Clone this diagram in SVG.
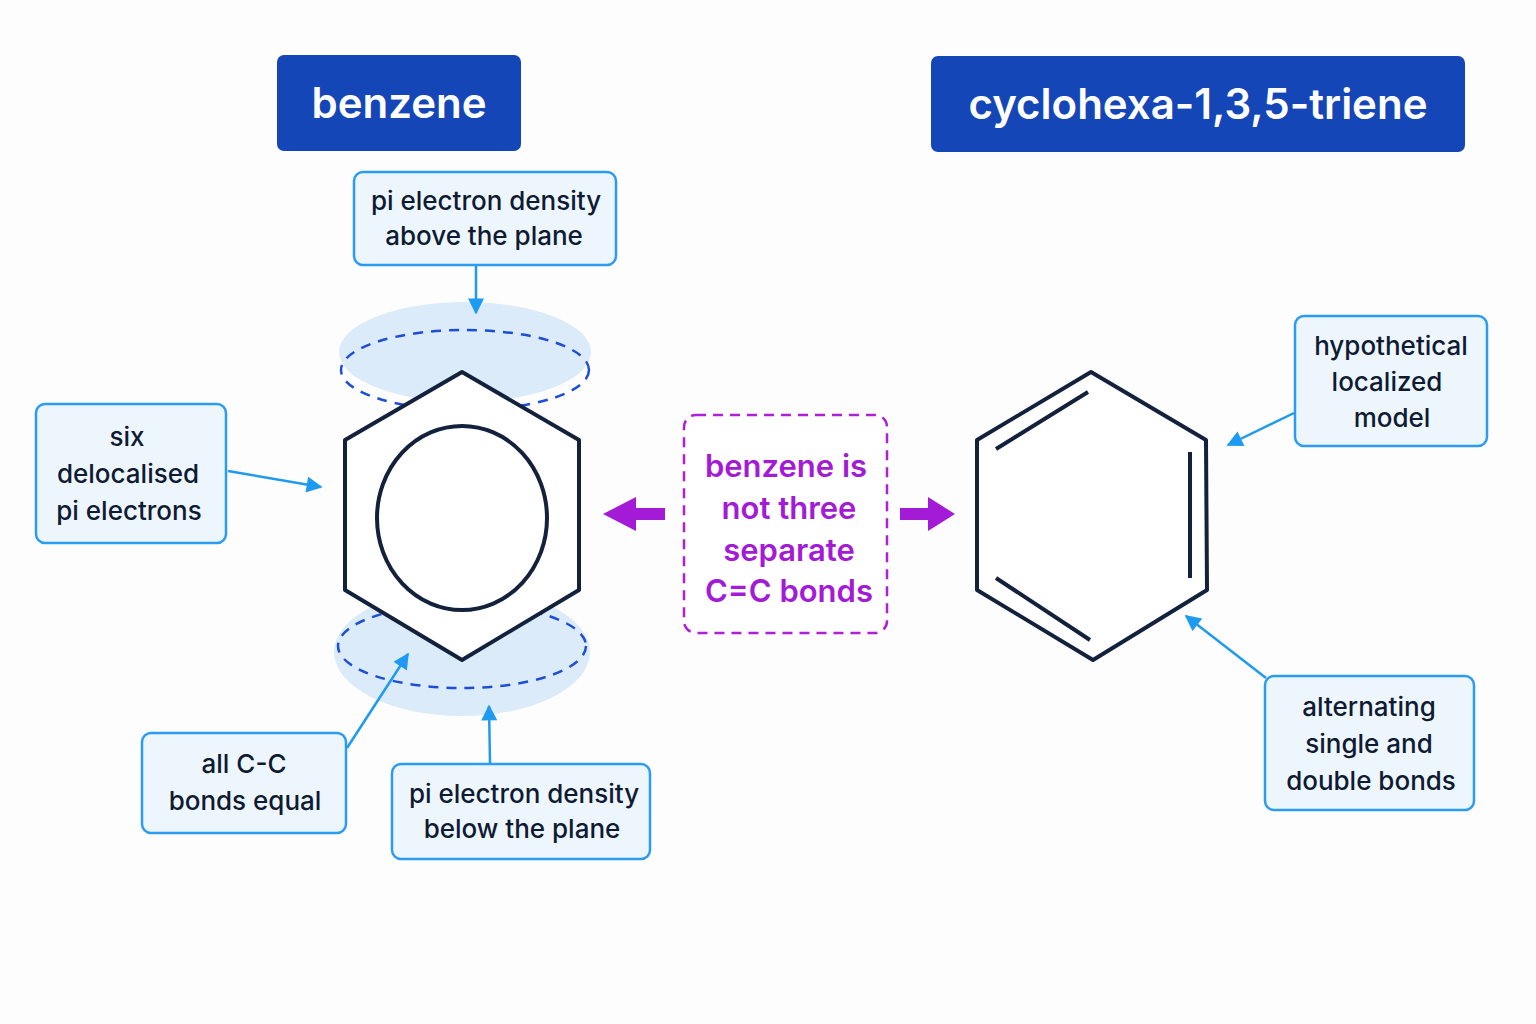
<svg xmlns="http://www.w3.org/2000/svg" width="1536" height="1024" viewBox="0 0 1536 1024">
<defs>
<style>
.title{fill:#1446b8}
.tt{font-family:Inter,"Liberation Sans",sans-serif;font-weight:600;fill:#fff;font-size:42px;text-anchor:middle}
.box{fill:#eef6fd;stroke:#2b9cf2;stroke-width:2.5}
.bt{font-family:Inter,"Liberation Sans",sans-serif;font-weight:500;fill:#0f1a33;font-size:26px;text-anchor:middle}
.pt{font-family:Inter,"Liberation Sans",sans-serif;font-weight:600;fill:#a31bd6;font-size:31px;text-anchor:middle}
.ring{fill:#fff;stroke:#14213d;stroke-width:4;stroke-linejoin:round}
.cloud{fill:#dcebfa}
.dash{fill:none;stroke:#1d4ed8;stroke-width:2.5;stroke-dasharray:10 8}
.ca{stroke:#1e9bf0;stroke-width:2.5;fill:none;marker-end:url(#ah)}
.ph{fill:#a31bd6}
</style>
<marker id="ah" viewBox="0 0 10 10" refX="9" refY="5" markerWidth="18" markerHeight="16" orient="auto" markerUnits="userSpaceOnUse"><path d="M0,0L10,5L0,10z" fill="#1e9bf0"/></marker>
</defs>
<rect width="1536" height="1024" fill="#fdfdfe"/>
<g id="title-benzene"><rect class="title" x="277" y="55" width="244" height="96" rx="7"/><text class="tt" x="399" y="118">benzene</text></g>
<g id="title-triene"><rect class="title" x="931" y="56" width="534" height="96" rx="7"/><text class="tt" x="1198" y="119">cyclohexa-1,3,5-triene</text></g>
<g id="benzene">
<ellipse class="cloud" cx="465" cy="352" rx="126" ry="50"/>
<ellipse class="dash" cx="465" cy="370" rx="124" ry="40"/>
<ellipse class="cloud" cx="462" cy="652" rx="128" ry="64"/>
<ellipse class="dash" cx="462" cy="646" rx="124" ry="42"/>
<polygon class="ring" points="462,372 579,440 579,590 462,660 345,590 345,440"/>
<ellipse cx="462" cy="518" rx="85" ry="92" fill="none" stroke="#14213d" stroke-width="4"/>
</g>
<g id="triene">
<polygon class="ring" points="1091,372 1206,440 1207,590 1093,660 977,590 977,440"/>
<path d="M996,449L1088,392M1190,452L1190,578M996,578L1090,640" stroke="#14213d" stroke-width="4"/>
</g>
<g id="note-middle"><rect x="684" y="415" width="203" height="218" rx="12" fill="#fff" stroke="#b01fd8" stroke-width="2.5" stroke-dasharray="10 7"/>
<text class="pt" x="786" y="477">benzene is</text><text class="pt" x="789" y="519">not three</text><text class="pt" x="789" y="561">separate</text><text class="pt" x="789" y="602">C=C bonds</text></g>
<g id="box-above"><rect class="box" x="354" y="172" width="262" height="93" rx="9"/><text class="bt" x="486" y="210">pi electron density</text><text class="bt" x="484" y="245">above the plane</text></g>
<g id="box-six"><rect class="box" x="36" y="404" width="190" height="139" rx="9"/><text class="bt" x="127" y="446">six</text><text class="bt" x="128" y="483">delocalised</text><text class="bt" x="129" y="520">pi electrons</text></g>
<g id="box-equal"><rect class="box" x="142" y="733" width="204" height="100" rx="9"/><text class="bt" x="244" y="773">all C-C</text><text class="bt" x="245" y="810">bonds equal</text></g>
<g id="box-below"><rect class="box" x="392" y="764" width="258" height="95" rx="9"/><text class="bt" x="524" y="803">pi electron density</text><text class="bt" x="522" y="838">below the plane</text></g>
<g id="box-hypo"><rect class="box" x="1295" y="316" width="192" height="130" rx="9"/><text class="bt" x="1391" y="355">hypothetical</text><text class="bt" x="1387" y="391">localized</text><text class="bt" x="1392" y="427">model</text></g>
<g id="box-alt"><rect class="box" x="1265" y="676" width="209" height="134" rx="9"/><text class="bt" x="1369" y="716">alternating</text><text class="bt" x="1369" y="753">single and</text><text class="bt" x="1371" y="790">double bonds</text></g>
<g id="connectors">
<path class="ca" d="M476,266L476,313"/>
<path class="ca" d="M228,471L321,487"/>
<path class="ca" d="M347,748L408,654"/>
<path class="ca" d="M490,763L489,706"/>
<path class="ca" d="M1294,413L1228,445"/>
<path class="ca" d="M1266,678L1186,616"/>
<path class="ph" d="M665,508L636,508L636,497L603,514L636,531L636,520L665,520z"/>
<path class="ph" d="M900,508L928,508L928,497L955,514L928,531L928,520L900,520z"/>
</g>
</svg>
